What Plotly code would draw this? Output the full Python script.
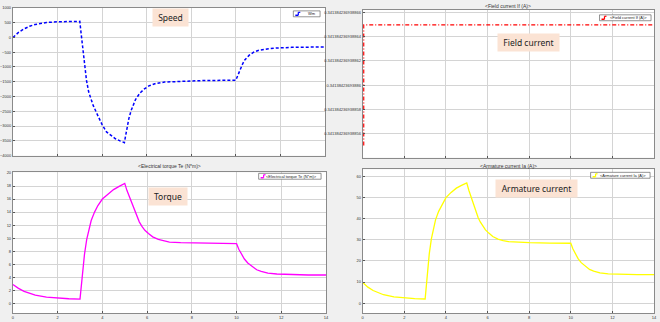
import plotly.graph_objects as go

# ---------------- data ----------------
t_speed = [0, 0.25, 0.5, 0.75, 1.0, 1.25, 1.5, 2.0, 2.5, 3.0, 3.05, 3.1, 3.15, 3.2, 3.3, 3.4, 3.5,
           3.6, 3.75, 3.9, 4.0, 4.2, 4.4, 4.6, 4.8, 5.0, 5.05, 5.1, 5.2, 5.3, 5.4, 5.5, 5.7, 5.9,
           6.1, 6.4, 6.8, 7.5, 8.5, 10.0, 10.1, 10.2, 10.3, 10.4, 10.6, 10.8, 11.0, 11.4, 11.8,
           12.5, 13.2, 14.0]
speed = [0, 170, 290, 380, 440, 480, 505, 530, 540, 545, 200, -150, -500, -850, -1450, -1850, -2100,
         -2300, -2550, -2800, -2950, -3200, -3330, -3430, -3500, -3560, -3350, -3100, -2750, -2480,
         -2250, -2100, -1880, -1740, -1640, -1560, -1510, -1480, -1460, -1445, -1250, -1050, -900,
         -760, -600, -500, -440, -390, -360, -335, -325, -320]

t_field = [0.05, 0.05, 14.0]
field_current = [0.341384236938855, 0.341384236938865, 0.341384236938865]
field_ticks = [0.341384236938866, 0.341384236938864, 0.341384236938862, 0.34138423693886,
               0.341384236938858, 0.341384236938856, 0.341384236938854]
field_ticktext = ["0.341384236938866", "0.341384236938864", "0.341384236938862", "0.34138423693886",
                  "0.341384236938858", "0.341384236938856", "0.341384236938854"]

t_torque = [0, 0.25, 0.5, 0.75, 1.0, 1.5, 2.0, 2.5, 3.0, 3.05, 3.1, 3.15, 3.2, 3.3, 3.4, 3.5, 3.65, 3.8,
            4.0, 4.25, 4.5, 4.75, 5.0, 5.1, 5.2, 5.33, 5.45, 5.55, 5.65, 5.77, 5.9, 6.06, 6.25,
            6.5, 6.75, 7.0, 7.5, 8.0, 9.0, 10.0, 10.1, 10.2, 10.35, 10.5, 10.7, 10.9, 11.1, 11.4,
            11.8, 12.5, 13.2, 14.0]
torque = [2.9, 2.3, 1.85, 1.5, 1.25, 0.95, 0.8, 0.7, 0.65, 2.5, 4.3, 6.0, 7.5, 9.8, 11.5, 12.7, 14.0, 15.0,
          16.0, 16.8, 17.45, 17.95, 18.4, 17.3, 16.4, 15.4, 14.1, 13.1, 12.5, 11.8, 11.2, 10.7, 10.2,
          9.8, 9.55, 9.4, 9.3, 9.25, 9.2, 9.15, 8.3, 7.6, 6.8, 6.2, 5.6, 5.15, 4.9, 4.65,
          4.5, 4.4, 4.35, 4.35]

t_current = t_torque
armature_current = [9.8, 7.6, 6.0, 4.9, 4.0, 3.0, 2.5, 2.2, 2.0, 8.0, 13.5, 19, 23.5, 30.5, 36, 39.5, 43.5, 46.5,
                    50, 52.5, 54.5, 55.8, 57.0, 53.5, 50.5, 47.5, 43.5, 40.5, 38.5, 36.5, 34.7, 33.2,
                    31.6, 30.4, 29.6, 29.2, 28.9, 28.7, 28.5, 28.4, 25.8, 23.6, 21.1, 19.2, 17.4,
                    16.0, 15.2, 14.4, 13.9, 13.6, 13.5, 13.5]

x_ticks = [0, 2, 4, 6, 8, 10, 12, 14]
speed_ticks = [1000, 500, 0, -500, -1000, -1500, -2000, -2500, -3000, -3500, -4000]
torque_ticks = [0, 2, 4, 6, 8, 10, 12, 14, 16, 18, 20]
current_ticks = [0, 10, 20, 30, 40, 50, 60]

series_names = ["Wm", "<Field current If (A)>", "<Electrical torque Te (N*m)>", "<Armature current Ia (A)>"]
series_colors = ["#0000ff", "#ff0000", "#ff00ff", "#ffff00"]

W, H = 660, 322


def px(x):
    return x / W


def py(y):
    return 1 - y / H


fig = go.Figure()
fig.add_trace(go.Scatter(x=t_speed, y=speed, mode="lines", name=series_names[0],
                         line=dict(color=series_colors[0], width=1.5, dash="3px,2px"),
                         xaxis="x", yaxis="y"))
fig.add_trace(go.Scatter(x=t_field, y=field_current, mode="lines", name=series_names[1],
                         line=dict(color=series_colors[1], width=1.2, dash="4px,2px,1px,2px"),
                         xaxis="x2", yaxis="y2"))
fig.add_trace(go.Scatter(x=t_torque, y=torque, mode="lines", name=series_names[2],
                         line=dict(color=series_colors[2], width=1.3),
                         xaxis="x3", yaxis="y3"))
fig.add_trace(go.Scatter(x=t_current, y=armature_current, mode="lines", name=series_names[3],
                         line=dict(color=series_colors[3], width=1.3),
                         xaxis="x4", yaxis="y4"))

ax_common = dict(showline=True, mirror=True, linecolor="#8a8a8a", linewidth=1,
                 showgrid=True, gridcolor="#d4d4d4", gridwidth=1, zeroline=False,
                 ticks="inside", ticklen=2, tickcolor="#555",
                 tickfont=dict(size=4, color="#333", family="Arial"))

fig.update_layout(
    width=W, height=H, margin=dict(l=0, r=0, t=0, b=0),
    paper_bgcolor="#f0f0f0", plot_bgcolor="#ffffff", showlegend=False,
    xaxis=dict(domain=[px(10), px(325)], anchor="y", range=[0, 14], tickvals=x_ticks, showticklabels=False, **ax_common),
    yaxis=dict(domain=[py(155), py(5)], anchor="x", range=[-4000, 1000], tickvals=speed_ticks, **ax_common),
    xaxis2=dict(domain=[px(363), px(657)], anchor="y2", range=[0, 14], tickvals=x_ticks, showticklabels=False, **ax_common),
    yaxis2=dict(domain=[py(157), py(7)], anchor="x2", range=[0.341384236938854, 0.3413842369388662],
                tickvals=field_ticks, ticktext=field_ticktext, **ax_common),
    xaxis3=dict(domain=[px(10), px(326)], anchor="y3", range=[0, 14], tickvals=x_ticks, **ax_common),
    yaxis3=dict(domain=[py(315), py(172)], anchor="x3", range=[-1.5, 20.1], tickvals=torque_ticks, **ax_common),
    xaxis4=dict(domain=[px(363), px(657)], anchor="y4", range=[0, 14], tickvals=x_ticks, **ax_common),
    yaxis4=dict(domain=[py(315), py(169)], anchor="x4", range=[-4.7, 63.4], tickvals=current_ticks, **ax_common),
)

# small MATLAB-scope style legend boxes (left, right, top, bottom in pixels)
legend_boxes = [(293, 320, 8, 14), (602, 654, 12, 18), (258, 321, 173, 179), (593, 653, 172, 178)]
for (l, r, t, b), name, col in zip(legend_boxes, series_names, series_colors):
    fig.add_shape(type="rect", xref="paper", yref="paper", x0=px(l), x1=px(r), y0=py(b), y1=py(t),
                  fillcolor="#ffffff", line=dict(color="#666", width=0.7))
    ym = (t + b) / 2
    fig.add_shape(type="line", xref="paper", yref="paper", x0=px(l + 2), x1=px(l + 5), y0=py(ym + 1.5), y1=py(ym + 1.5),
                  line=dict(color=col, width=1.5))
    fig.add_shape(type="line", xref="paper", yref="paper", x0=px(l + 5), x1=px(l + 5), y0=py(ym + 1.5), y1=py(ym - 1.5),
                  line=dict(color=col, width=1.2))
    fig.add_shape(type="line", xref="paper", yref="paper", x0=px(l + 5), x1=px(l + 7), y0=py(ym - 1.5), y1=py(ym - 1.5),
                  line=dict(color=col, width=1.2))
    fig.add_annotation(text=name.replace("<", "&lt;").replace(">", "&gt;"), x=px(r - 2), y=py(ym),
                       xref="paper", yref="paper", xanchor="right", yanchor="middle", showarrow=False,
                       font=dict(size=4, color="#222", family="Arial"))

titles = [("<Field current If (A)>", 510, 3.5), ("<Electrical torque Te (N*m)>", 168, 165.5),
          ("<Armature current Ia (A)>", 510, 165.5)]
for txt, x, y in titles:
    fig.add_annotation(text=txt.replace("<", "&lt;").replace(">", "&gt;"), x=px(x), y=py(y),
                       xref="paper", yref="paper", xanchor="center", yanchor="middle", showarrow=False,
                       font=dict(size=5, color="#333", family="Arial"))

# label boxes: text, centre x, centre y, inner width
boxes = [("Speed", 169.5, 15, 29), ("Field current", 530.5, 40.5, 55),
         ("Torque", 167, 196.5, 32), ("Armature current", 538.5, 188.5, 75)]
for txt, x, y, w in boxes:
    fig.add_annotation(text=txt, x=px(x), y=py(y), xref="paper", yref="paper",
                       xanchor="center", yanchor="middle", showarrow=False,
                       width=w, height=11, align="center",
                       bgcolor="#fbe3d4", borderpad=3,
                       font=dict(size=8.5, color="#222", family="Noto Sans"))

fig.write_html("out.html")
